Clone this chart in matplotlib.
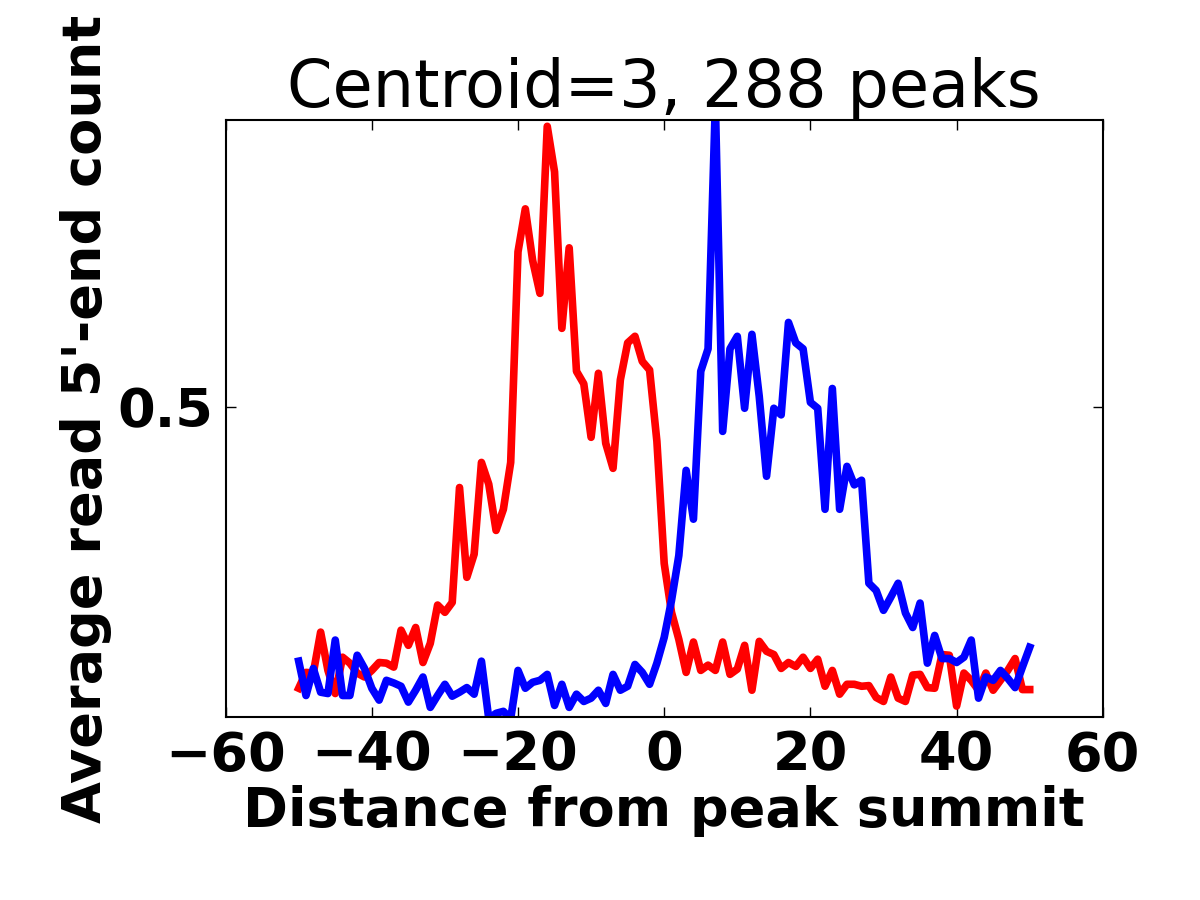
import numpy as np
import matplotlib
matplotlib.use('Agg')
import matplotlib.pyplot as plt

# 피크 중심으로부터의 거리
dist = np.arange(-50, 51)

# 정방향(빨강) / 역방향(파랑) 평균 5' 말단 리드 수
red_vals = [
    0.074, 0.098, 0.097, 0.159, 0.101, 0.066, 0.121, 0.112, 0.097, 0.091,
    0.101, 0.113, 0.112, 0.106, 0.162, 0.139, 0.166, 0.113, 0.142, 0.200,
    0.189, 0.204, 0.378, 0.242, 0.277, 0.416, 0.383, 0.313, 0.345, 0.416,
    0.735, 0.800, 0.722, 0.672, 0.925, 0.856, 0.619, 0.741, 0.554, 0.535,
    0.454, 0.551, 0.445, 0.407, 0.541, 0.597, 0.607, 0.569, 0.556, 0.448,
    0.263, 0.189, 0.148, 0.098, 0.144, 0.101, 0.109, 0.101, 0.144, 0.095,
    0.103, 0.139, 0.071, 0.145, 0.130, 0.125, 0.104, 0.113, 0.107, 0.121,
    0.104, 0.118, 0.077, 0.101, 0.065, 0.080, 0.080, 0.077, 0.078, 0.060,
    0.054, 0.091, 0.059, 0.054, 0.094, 0.095, 0.075, 0.074, 0.125, 0.124,
    0.047, 0.097, 0.086, 0.071, 0.097, 0.071, 0.086, 0.101, 0.119, 0.072,
    0.072,
]
blue_vals = [
    0.115, 0.063, 0.104, 0.068, 0.066, 0.147, 0.063, 0.063, 0.124, 0.104,
    0.074, 0.056, 0.086, 0.082, 0.077, 0.053, 0.071, 0.091, 0.045, 0.063,
    0.080, 0.062, 0.068, 0.075, 0.065, 0.115, 0.028, 0.036, 0.039, 0.028,
    0.101, 0.074, 0.083, 0.086, 0.095, 0.048, 0.080, 0.045, 0.065, 0.054,
    0.059, 0.071, 0.051, 0.095, 0.071, 0.077, 0.110, 0.098, 0.080, 0.112,
    0.151, 0.207, 0.275, 0.404, 0.330, 0.554, 0.588, 0.960, 0.463, 0.588,
    0.607, 0.498, 0.610, 0.516, 0.395, 0.498, 0.488, 0.628, 0.597, 0.588,
    0.507, 0.498, 0.345, 0.528, 0.345, 0.410, 0.382, 0.389, 0.233, 0.222,
    0.192, 0.212, 0.233, 0.188, 0.166, 0.203, 0.112, 0.154, 0.119, 0.119,
    0.113, 0.121, 0.147, 0.059, 0.091, 0.086, 0.101, 0.089, 0.075, 0.106,
    0.136,
]

x_ticks = [-60, -40, -20, 0, 20, 40, 60]
y_ticks = [0.5]


def main():
    fig = plt.figure(figsize=(12, 9), dpi=100, facecolor='white')
    ax = fig.add_axes([0.188, 0.203, 0.731, 0.664])

    ax.plot(dist, red_vals, color='red', lw=5.5)
    ax.plot(dist, blue_vals, color='blue', lw=5.5)

    ax.set_xlim(-60, 60)
    ax.set_ylim(0.03, 0.935)
    ax.set_xticks(x_ticks)
    ax.set_yticks(y_ticks)
    ax.set_yticklabels(['0.5'])

    ax.tick_params(direction='in', top=True, right=True, length=7, width=1,
                   pad=9, labelsize=39)
    for lab in ax.get_xticklabels() + ax.get_yticklabels():
        lab.set_fontweight('bold')
    for sp in ax.spines.values():
        sp.set_linewidth(1.5)

    ax.set_title('Centroid=3, 288 peaks', fontsize=47, pad=9)
    ax.set_xlabel('Distance from peak summit', fontsize=39,
                  fontweight='bold', labelpad=2)
    ax.set_ylabel("Average read 5'-end count", fontsize=39,
                  fontweight='bold', labelpad=4)

    fig.savefig('out.png', dpi=100, facecolor='white')


if __name__ == '__main__':
    main()
